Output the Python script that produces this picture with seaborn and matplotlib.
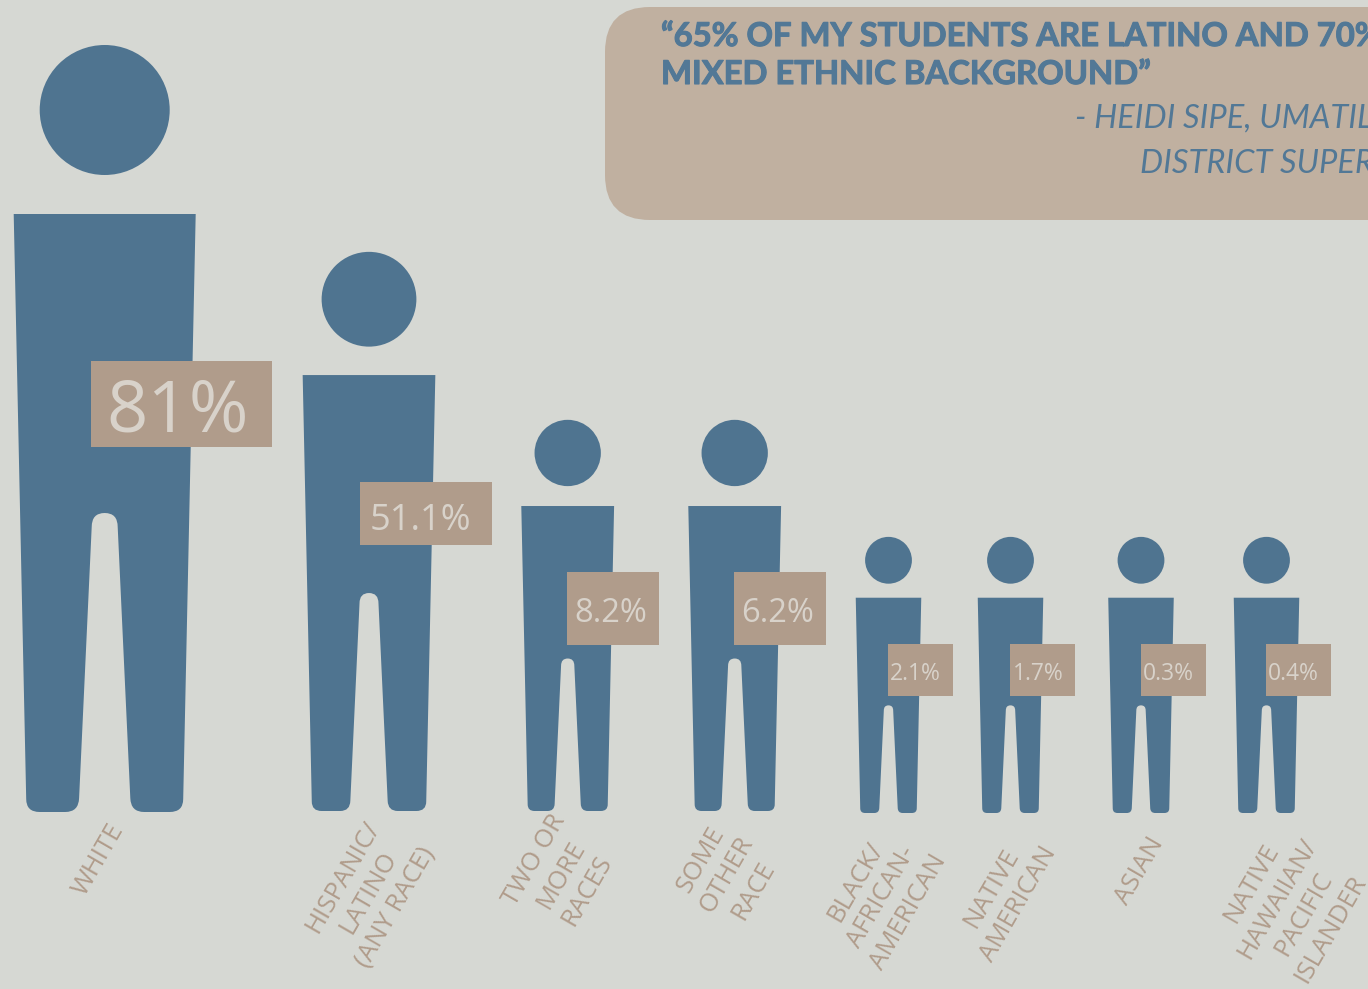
import matplotlib
matplotlib.use("Agg")
import matplotlib.pyplot as plt
import matplotlib.patheffects as pe
import seaborn as sns
from matplotlib.path import Path
from matplotlib.patches import Circle, FancyBboxPatch, PathPatch, Rectangle

# the chart's values
categories = ["WHITE", "HISPANIC/\nLATINO\n(ANY RACE)", "TWO OR\nMORE\nRACES", "SOME\nOTHER\nRACE",
              "BLACK/\nAFRICAN-\nAMERICAN", "NATIVE\nAMERICAN", "ASIAN",
              "NATIVE\nHAWAIIAN/\nPACIFIC\nISLANDER"]
percent = [81, 51.1, 8.2, 6.2, 2.1, 1.7, 0.3, 0.4]

quote_lines = ["\u201c65% OF MY STUDENTS ARE LATINO AND 70%", "MIXED ETHNIC BACKGROUND\u201d"]
credit_lines = ["- HEIDI SIPE, UMATILLA SCHOOL", "DISTRICT SUPERINTENDENT"]

# layout, in picture pixels
icon_x = [104.7, 369, 567.7, 734.7, 888.5, 1010.5, 1141, 1266.5]
icon_scale = [1.0, 0.729, 0.51, 0.51, 0.36, 0.36, 0.36, 0.36]
icon_base = [812, 811, 811, 811, 813, 813, 813, 813]
box_left = [91, 360, 567, 734, 888, 1010, 1141, 1266]
box_top = [361, 482, 572, 572, 644, 644, 644, 644]
box_w = [181, 132, 92, 92, 65, 65, 65, 65]
box_h = [86, 63, 73, 73, 52, 52, 52, 52]
value_x = [106, 370, 574, 741, 890, 1013, 1143, 1268]
value_y = [404, 517, 609, 609, 671, 671, 671, 671]
box_font = [52, 26, 23.5, 23.5, 16.5, 16.5, 16.5, 16.5]
label_x = [99, 369, 561, 727, 882, 1005, 1140, 1291]
label_y = [860, 892, 875, 875, 897, 896, 871, 906]

BG = "#d6d8d3"
BLUE = "#4f7490"
TAN = "#b09c8b"
PANEL = "#c0b0a0"
PALE = "#d8d2ca"
QUOTE = "#527896"

sns.set_theme(style="white", rc={"figure.facecolor": BG, "axes.facecolor": BG})
plt.rcParams["font.family"] = ["Open Sans", "DejaVu Sans"]


def person_path(cx, base, s):
    # body outline of the largest figure, scaled; y is measured upwards from the feet
    pts = [
        (-91, 598, Path.MOVETO), (91, 598, Path.LINETO),
        (78.5, 13, Path.LINETO), (78.5, 0, Path.CURVE3), (65, 0, Path.CURVE3),
        (39.5, 0, Path.LINETO), (26, 0, Path.CURVE3), (25.6, 14, Path.CURVE3),
        (13, 285, Path.LINETO), (13, 299, Path.CURVE3), (0, 299, Path.CURVE3),
        (-13, 299, Path.CURVE3), (-13, 285, Path.CURVE3),
        (-25.6, 14, Path.LINETO), (-26, 0, Path.CURVE3), (-39.5, 0, Path.CURVE3),
        (-65, 0, Path.LINETO), (-78.5, 0, Path.CURVE3), (-78.5, 13, Path.CURVE3),
        (-91, 598, Path.LINETO),
    ]
    verts = [(cx + x * s, base - y * s) for x, y, _ in pts]
    return Path(verts, [c for _, _, c in pts])


fig = plt.figure(figsize=(13.68, 9.89), dpi=100)
ax = fig.add_axes([0, 0, 1, 1])
ax.set_xlim(0, 1368)
ax.set_ylim(989, 0)
ax.axis("off")

ax.add_patch(FancyBboxPatch((605, 7), 900, 213, boxstyle="round,pad=0,rounding_size=45",
                            fc=PANEL, ec="none", zorder=1))

for i, (name, val) in enumerate(zip(categories, percent)):
    cx, s, base = icon_x[i], icon_scale[i], icon_base[i]
    ax.add_patch(PathPatch(person_path(cx, base, s), fc=BLUE, ec="none", zorder=2))
    ax.add_patch(Circle((cx, base - 702 * s), 65 * s, fc=BLUE, ec="none", zorder=2))
    ax.add_patch(Rectangle((box_left[i], box_top[i]), box_w[i], box_h[i], fc=TAN, ec="none", zorder=3))
    ax.text(value_x[i], value_y[i], f"{val:g}%", color=PALE,
            fontsize=box_font[i], ha="left", va="center_baseline", zorder=4)
    ax.text(label_x[i], label_y[i], name, color=TAN, fontsize=18.5, rotation=60, ha="center", va="center",
            multialignment="center", linespacing=1.28, rotation_mode="anchor", zorder=4)

for y, line in zip([46, 84], quote_lines):
    ax.text(661, y, line, color=QUOTE, fontsize=23.6, fontweight="bold", family=["Lato", "DejaVu Sans"],
            ha="left", va="baseline", zorder=4,
            path_effects=[pe.withStroke(linewidth=0.8, foreground=QUOTE)])
for x, y, line in zip([1075, 1140], [128, 173], credit_lines):
    ax.text(x, y, line, color=QUOTE, fontsize=23.5, fontstyle="italic", fontweight="normal",
            family=["Lato", "DejaVu Sans"], ha="left", va="baseline", zorder=4)

fig.savefig("out.png", dpi=100, facecolor=BG)
